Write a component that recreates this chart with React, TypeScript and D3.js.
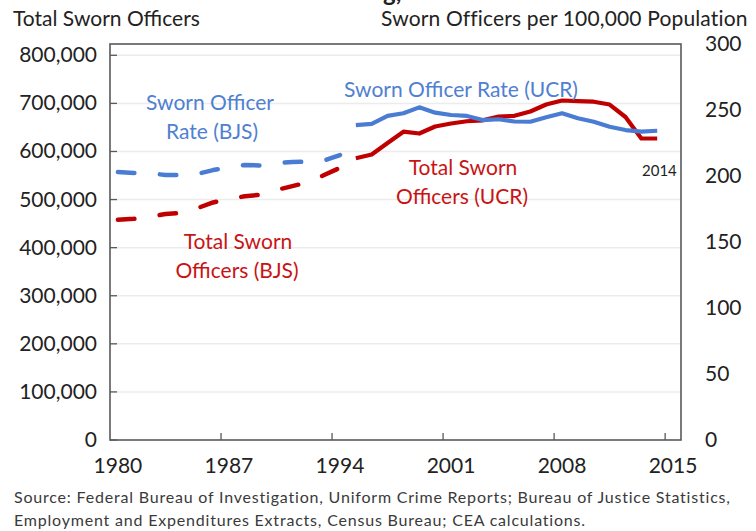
import React from "react";
import * as d3 from "d3";

const categoryYears: number[] = d3.range(1980, 2016);
const xTickYears = [1980, 1987, 1994, 2001, 2008, 2015];
const leftTicks = [0, 100000, 200000, 300000, 400000, 500000, 600000, 700000, 800000];
const rightTicks = [0, 50, 100, 150, 200, 250, 300];

const bjsYears = [1980, 1981, 1982, 1983, 1984, 1985, 1986, 1987, 1988, 1989, 1990, 1991, 1992, 1993, 1994];
const bjsRate = [203.0, 202.3, 202.0, 200.8, 200.8, 201.5, 204.5, 206.8, 208.3, 208.0, 209.8, 210.6, 210.8, 211.7, 215.9];
const bjsTotal = [458000, 460000, 464000, 470000, 472000, 482000, 494000, 501000, 507000, 510000, 520000, 528000, 536000, 551000, 566000];

const ucrYears = [1995, 1996, 1997, 1998, 1999, 2000, 2001, 2002, 2003, 2004, 2005, 2006, 2007, 2008, 2009, 2010, 2011, 2012, 2013, 2014];
const ucrRate = [238.6, 239.5, 245.5, 247.5, 252.0, 248.0, 246.2, 245.5, 242.4, 243.0, 241.3, 241.1, 244.5, 247.5, 243.7, 241.1, 237.3, 234.8, 233.6, 234.3];
const ucrTotal = [585800, 593700, 617600, 641100, 637300, 651900, 658100, 662900, 664800, 672700, 674100, 683100, 697600, 706000, 704900, 703500, 697600, 671700, 627000, 627000];

const W = 756, H = 531;
const L = 110, R = 681, T = 44, B = 440;
const FONT = "Lato, 'Open Sans', sans-serif";
const BLUE = "#4a7cd4";
const BLUE_TXT = "#4f80d2";
const RED = "#c00000";
const RED_TXT = "#c81414";

export default function App() {
  const x = d3.scaleBand<number>().domain(categoryYears).range([L, R]).padding(0);
  const bw = x.bandwidth();
  const cx = (yr: number) => (x(yr) as number) + bw / 2;
  const yL = d3.scaleLinear().domain([0, 800000]).range([B, 55.3]);
  const yR = d3.scaleLinear().domain([0, 300]).range([B, T]);

  const lineL = d3.line<[number, number]>().x(d => cx(d[0])).y(d => yL(d[1]));
  const lineR = d3.line<[number, number]>().x(d => cx(d[0])).y(d => yR(d[1]));

  const bjsRatePath = lineR(bjsYears.map((yr, i) => [yr, bjsRate[i]]));
  const bjsTotalPath = lineL(bjsYears.map((yr, i) => [yr, bjsTotal[i]]));
  const ucrRatePath = lineR(ucrYears.map((yr, i) => [yr, ucrRate[i]]));
  const ucrTotalPath = lineL(ucrYears.map((yr, i) => [yr, ucrTotal[i]]));

  const fmt = d3.format(",");

  return (
    <svg width={W} height={H} style={{ position: "absolute", left: 0, top: 0, background: "#fff" }} fontFamily={FONT}>
      <rect x={0} y={0} width={W} height={H} fill="#fff" />
      <text x={383} y={1} fontSize={24} fontWeight="bold" fill="#222">g,</text>
      <text x={13} y={26} fontSize={21} fill="#222">Total Sworn Officers</text>
      <text x={381} y={26} fontSize={21} fill="#222" letterSpacing={0.15}>Sworn Officers per 100,000 Population</text>

      {leftTicks.filter(v => v > 0).map(v => (
        <line key={"g" + v} x1={L} x2={R} y1={yL(v)} y2={yL(v)} stroke="#ececec" strokeWidth={1.5} />
      ))}
      {leftTicks.map(v => (
        <line key={"lt" + v} x1={L} x2={L + 7} y1={yL(v)} y2={yL(v)} stroke="#595959" strokeWidth={1.3} />
      ))}
      {xTickYears.slice(1).map(yr => (
        <line key={"xt" + yr} x1={x(yr) as number} x2={x(yr) as number} y1={B} y2={B - 7} stroke="#595959" strokeWidth={1.3} />
      ))}
      <rect x={L} y={T} width={R - L} height={B - T} fill="none" stroke="#595959" strokeWidth={1.6} />

      {leftTicks.map(v => (
        <text key={"ll" + v} x={97} y={yL(v) + 7} fontSize={21} textAnchor="end" fill="#222">{fmt(v)}</text>
      ))}
      {rightTicks.map(v => (
        <text key={"rl" + v} x={705} y={yR(v) + 7} fontSize={21} fill="#222">{v}</text>
      ))}
      {xTickYears.map(yr => (
        <text key={"xl" + yr} x={cx(yr)} y={473} fontSize={21} textAnchor="middle" fill="#222">{yr}</text>
      ))}

      <path d={bjsRatePath || ""} fill="none" stroke={BLUE} strokeWidth={4.5} strokeDasharray="16.5,25.5" strokeLinecap="round" strokeLinejoin="round" />
      <path d={bjsTotalPath || ""} fill="none" stroke={RED} strokeWidth={4.5} strokeDasharray="16.5,25.5" strokeLinecap="round" strokeLinejoin="round" />
      <path d={ucrTotalPath || ""} fill="none" stroke={RED} strokeWidth={4.2} strokeLinejoin="round" />
      <path d={ucrRatePath || ""} fill="none" stroke={BLUE} strokeWidth={4.2} strokeLinejoin="round" />

      <text x={210} y={110} fontSize={21} textAnchor="middle" fill={BLUE_TXT}>Sworn Officer</text>
      <text x={212} y={139} fontSize={21} textAnchor="middle" fill={BLUE_TXT}>Rate (BJS)</text>
      <text x={238} y={249} fontSize={21} textAnchor="middle" fill={RED_TXT}>Total Sworn</text>
      <text x={237} y={278} fontSize={21} textAnchor="middle" fill={RED_TXT}>Officers (BJS)</text>
      <text x={461} y={97} fontSize={21} textAnchor="middle" fill={BLUE_TXT}>Sworn Officer Rate (UCR)</text>
      <text x={463} y={175} fontSize={21} textAnchor="middle" fill={RED_TXT}>Total Sworn</text>
      <text x={462} y={204} fontSize={21} textAnchor="middle" fill={RED_TXT}>Officers (UCR)</text>
      <text x={642} y={176} fontSize={15} fill="#222">2014</text>

      <text x={14} y={503} fontSize={16} fill="#3a3a3a" letterSpacing={0.8}>Source: Federal Bureau of Investigation, Uniform Crime Reports; Bureau of Justice Statistics,</text>
      <text x={14} y={526} fontSize={16} fill="#3a3a3a" letterSpacing={0.8}>Employment and Expenditures Extracts, Census Bureau; CEA calculations.</text>
    </svg>
  );
}
